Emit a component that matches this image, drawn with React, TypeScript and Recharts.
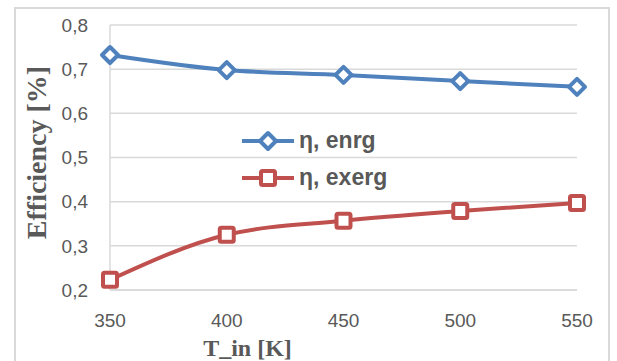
import React from 'react';
import {
  LineChart,
  Line,
  XAxis,
  YAxis,
  CartesianGrid,
  Legend,
} from 'recharts';

const temperatures = [350, 400, 450, 500, 550];
const energyEfficiency = [0.732, 0.698, 0.687, 0.673, 0.66];
const exergyEfficiency = [0.223, 0.325, 0.357, 0.379, 0.397];
const yTicks = [0.2, 0.3, 0.4, 0.5, 0.6, 0.7, 0.8];

const BLUE = '#4F81BD';
const RED = '#C0504D';
const TEXT = '#595959';

const data = temperatures.map((t, i) => ({
  t,
  enrg: energyEfficiency[i],
  exerg: exergyEfficiency[i],
}));

const Diamond = (props: any) => {
  const { cx, cy, stroke } = props;
  if (cx == null || cy == null) return null;
  const r = 8;
  return (
    <path
      d={`M${cx},${cy - r} L${cx + r},${cy} L${cx},${cy + r} L${cx - r},${cy} Z`}
      fill="#fff"
      stroke={stroke}
      strokeWidth={4}
      strokeLinejoin="round"
    />
  );
};

const Square = (props: any) => {
  const { cx, cy, stroke } = props;
  if (cx == null || cy == null) return null;
  const r = 7;
  return (
    <rect
      x={cx - r}
      y={cy - r}
      width={r * 2}
      height={r * 2}
      rx={1.5}
      fill="#fff"
      stroke={stroke}
      strokeWidth={4}
    />
  );
};

const legendItems = [
  { name: 'η, enrg', color: BLUE, marker: 'diamond' },
  { name: 'η, exerg', color: RED, marker: 'square' },
];

const LegendContent = () => (
  <div>
    {legendItems.map((item) => (
      <div key={item.name} style={{ display: 'flex', alignItems: 'center', height: 37 }}>
        <svg width={54} height={24}>
          <line x1={0} y1={12} x2={52} y2={12} stroke={item.color} strokeWidth={4} />
          {item.marker === 'diamond' ? (
            <Diamond cx={26} cy={12} stroke={item.color} />
          ) : (
            <Square cx={26} cy={12} stroke={item.color} />
          )}
        </svg>
        <span
          style={{
            fontFamily: 'Liberation Sans, Arial, sans-serif',
            fontWeight: 'bold',
            fontSize: 23,
            color: TEXT,
            marginLeft: 3,
          }}
        >
          {item.name}
        </span>
      </div>
    ))}
  </div>
);

export default function App() {
  return (
    <div style={{ position: 'absolute', left: 0, top: 0, width: 617, height: 361, background: '#fff' }}>
      <div
        style={{
          position: 'absolute',
          left: 14,
          top: 7,
          width: 596,
          height: 360,
          border: '2px solid #D9D9D9',
          boxSizing: 'border-box',
        }}
      />
      <LineChart
        width={617}
        height={361}
        data={data}
        margin={{ top: 25, right: 40, bottom: 3, left: 20 }}
        style={{ position: 'absolute', left: 0, top: 0 }}
      >
        <CartesianGrid vertical={false} stroke="#D9D9D9" strokeWidth={1.5} />
        <XAxis
          dataKey="t"
          type="category"
          padding={{ left: 0, right: 0 }}
          axisLine={{ stroke: '#D9D9D9', strokeWidth: 1.5 }}
          tickLine={false}
          tickSize={0}
          tickMargin={24}
          height={68}
          tick={{ fill: TEXT, fontSize: 19, fontFamily: 'Liberation Sans, Arial, sans-serif' }}
          label={{
            value: 'T_in [K]',
            position: 'insideBottom',
            offset: 2,
            dx: -96,
            style: {
              fill: TEXT,
              fontSize: 24,
              fontWeight: 'bold',
              fontFamily: 'Liberation Serif, Times New Roman, serif',
            },
          }}
        />
        <YAxis
          type="number"
          domain={[0.2, 0.8]}
          ticks={yTicks}
          width={90}
          axisLine={{ stroke: '#D9D9D9', strokeWidth: 1.5 }}
          tickLine={false}
          tickSize={0}
          tickMargin={22}
          tickFormatter={(v: number) => v.toFixed(1).replace('.', ',')}
          tick={{ fill: TEXT, fontSize: 19, fontFamily: 'Liberation Sans, Arial, sans-serif' }}
          label={{
            value: 'Efficiency [%]',
            angle: -90,
            position: 'insideLeft',
            offset: 16,
            dy: -5,
            style: {
              textAnchor: 'middle',
              fill: TEXT,
              fontSize: 28,
              fontWeight: 'bold',
              fontFamily: 'Liberation Serif, Times New Roman, serif',
            },
          }}
        />
        <Legend
          layout="vertical"
          verticalAlign="middle"
          align="center"
          content={<LegendContent />}
          wrapperStyle={{ left: 242, top: 122, width: 200 }}
        />
        <Line
          type="monotone"
          dataKey="enrg"
          name="η, enrg"
          stroke={BLUE}
          strokeWidth={4}
          dot={<Diamond />}
          activeDot={false}
          isAnimationActive={false}
        />
        <Line
          type="monotone"
          dataKey="exerg"
          name="η, exerg"
          stroke={RED}
          strokeWidth={4}
          dot={<Square />}
          activeDot={false}
          isAnimationActive={false}
        />
      </LineChart>
    </div>
  );
}
